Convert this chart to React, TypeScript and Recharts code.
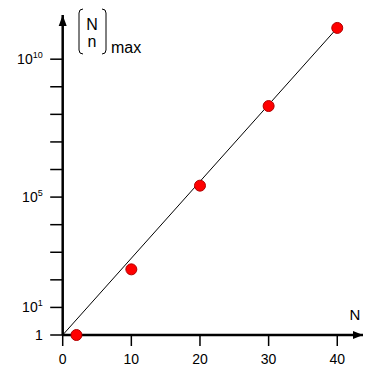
import React from 'react';
import { ComposedChart, XAxis, YAxis, Scatter, Line, ReferenceDot, Customized } from 'recharts';

// Data
const nValues = [2, 10, 20, 30, 40];
const maxCoeff = [1, 240, 2.6e5, 2.0e8, 1.36e11];
const fitN = [0, 40];
const fitValues = [1, 1.36e11];

const xTicks = [0, 10, 20, 30, 40];
const yTicks = [1, 1e1, 1e2, 1e3, 1e4, 1e5, 1e6, 1e7, 1e8, 1e9, 1e10];
const yLabelValues = [1, 1e1, 1e5, 1e10];
const yLabelBases = ['1', '10', '10', '10'];
const yLabelExps = ['', '1', '5', '10'];

const X_MAX = 43.75;
const Y_MIN = 1;
const Y_MAX = 4e11;

const points = nValues.map((n, i) => ({ N: n, v: maxCoeff[i] }));
const fitLine = fitN.map((n, i) => ({ N: n, v: fitValues[i] }));

const FONT = '"Liberation Sans", Arial, sans-serif';

const XTick = (props: any) => {
  const { x, y, payload } = props;
  return (
    <text x={x} y={y} dy={14} textAnchor="middle" fontSize={14} fontFamily={FONT} fill="#000">
      {payload.value}
    </text>
  );
};

const YTick = (props: any) => {
  const { x, y, payload } = props;
  const idx = yLabelValues.findIndex((v) => Math.abs(Math.log10(v) - Math.log10(payload.value)) < 1e-6);
  if (idx < 0) return null;
  return (
    <text x={x} y={y} dy={5} textAnchor="end" fontSize={14} fontFamily={FONT} fill="#000">
      {yLabelBases[idx]}
      {yLabelExps[idx] ? (
        <tspan dy={-6} fontSize={9}>{yLabelExps[idx]}</tspan>
      ) : null}
    </text>
  );
};

const Dot = (props: any) => {
  const { cx, cy } = props;
  return <circle cx={cx} cy={cy} r={5.5} fill="#ff0000" stroke="#b00000" strokeWidth={1} />;
};

const XArrow = (props: any) => {
  const { cx, cy } = props;
  return <path d={`M ${cx} ${cy} L ${cx - 10} ${cy - 4} L ${cx - 10} ${cy + 4} Z`} fill="#000" />;
};

const YArrow = (props: any) => {
  const { cx, cy } = props;
  return <path d={`M ${cx} ${cy} L ${cx - 4} ${cy + 11} L ${cx + 4} ${cy + 11} Z`} fill="#000" />;
};

const AxisTitles = () => (
  <g fontFamily={FONT} fill="#000">
    <path d="M 83 9 Q 79 9 79 13 L 79 50 Q 79 54 83 54" fill="none" stroke="#000" strokeWidth={1} />
    <path d="M 102 9 Q 106 9 106 13 L 106 50 Q 106 54 102 54" fill="none" stroke="#000" strokeWidth={1} />
    <text x={92} y={30} textAnchor="middle" fontSize={16}>N</text>
    <text x={92} y={47} textAnchor="middle" fontSize={16}>n</text>
    <text x={111} y={53} fontSize={16}>max</text>
    <text x={355} y={320} textAnchor="middle" fontSize={15}>N</text>
  </g>
);

export default function App() {
  return (
    <div style={{ position: 'absolute', left: 0, top: 0 }}>
      <ComposedChart
        width={375}
        height={375}
        margin={{ top: 15, right: 12, bottom: 10, left: 12.7 }}
      >
        <XAxis
          type="number"
          dataKey="N"
          domain={[0, X_MAX]}
          ticks={xTicks}
          interval={0}
          height={30}
          tickSize={11}
          tickMargin={4}
          axisLine={{ stroke: '#000', strokeWidth: 2.5 }}
          tickLine={{ stroke: '#000', strokeWidth: 1.5 }}
          tick={<XTick />}
        />
        <YAxis
          type="number"
          dataKey="v"
          scale="log"
          domain={[Y_MIN, Y_MAX]}
          ticks={yTicks}
          interval={0}
          width={50}
          tickSize={12.5}
          tickMargin={7.5}
          axisLine={{ stroke: '#000', strokeWidth: 2.5 }}
          tickLine={{ stroke: '#000', strokeWidth: 1.5 }}
          tick={<YTick />}
        />
        <Scatter data={points} dataKey="v" shape={<Dot />} isAnimationActive={false} />
        <Line
          data={fitLine}
          dataKey="v"
          type="linear"
          stroke="#000"
          strokeWidth={1}
          dot={false}
          activeDot={false}
          isAnimationActive={false}
        />
        <ReferenceDot x={X_MAX} y={1} ifOverflow="visible" shape={<XArrow />} />
        <ReferenceDot x={0} y={Y_MAX} ifOverflow="visible" shape={<YArrow />} />
        <Customized component={<AxisTitles />} />
      </ComposedChart>
    </div>
  );
}
